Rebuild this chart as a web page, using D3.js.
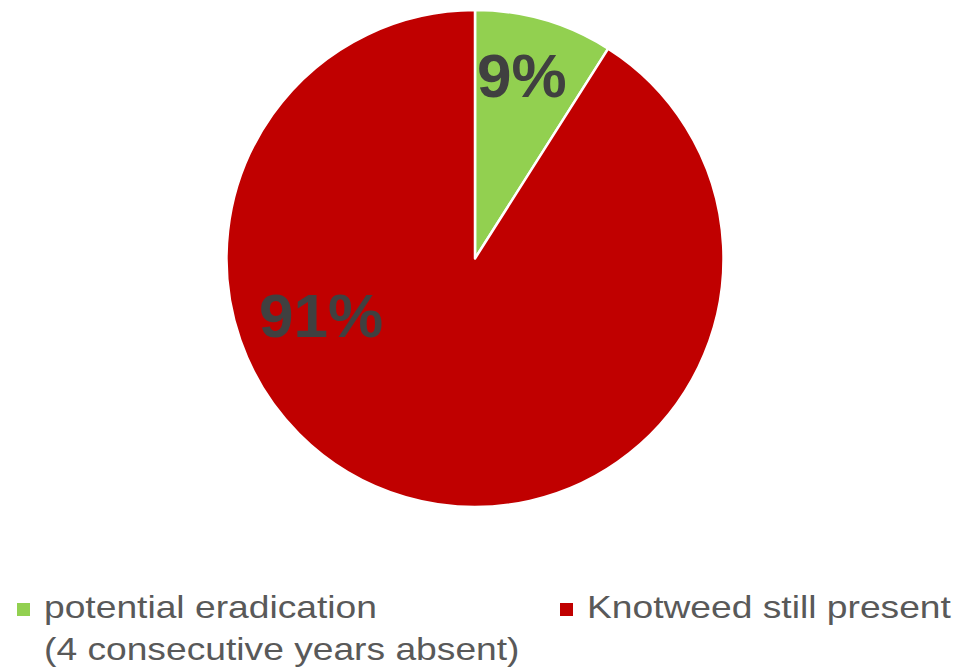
<html>
	<head>
		<title></title>
		<script type="text/javascript" src="https://d3js.org/d3.v7.min.js"></script>
		<style>
			body {
				margin: 0;
				background-color: #ffffff;
			}
		</style>
	</head>
	<body>
		<div></div>

		<script>

			//Data
			var categories = ["potential eradication (4 consecutive years absent)", "Knotweed still present"];
			var values = [9, 91];
			var valueLabels = ["9%", "91%"];
			var colors = ["#92d050", "#c00000"];
			var legendLines = [["potential eradication", "(4 consecutive years absent)"], ["Knotweed still present"]];

			//Canvas dimensions
			var canvasWidth = 955;
			var canvasHeight = 670;

			//Pie geometry
			var cx = 475;
			var cy = 258.5;
			var radius = 248.5;

			//Label placement (fraction of radius, angle override like excel best fit)
			var labelPlacement = [{r: 0.76, angle: 0.25}, {r: 0.66, angle: 4.36}];

			var canvas = d3.select("div").append("svg")
									.attr("width",canvasWidth)
									.attr("height",canvasHeight);

			var pie = d3.pie().sort(null).value(function(d){return d;});
			var arcs = pie(values);

			var arc = d3.arc().innerRadius(0).outerRadius(radius);

			var g = canvas.append("g").attr("transform","translate("+cx+","+cy+")");

			//Slices
			g.selectAll("path").data(arcs).enter().append("path")
					.attr("d",arc)
					.attr("fill",function(d,i){return colors[i];})
					.attr("stroke","#ffffff")
					.attr("stroke-width",2.5)
					.attr("stroke-linejoin","round");

			//Data labels
			g.selectAll("text.label").data(arcs).enter().append("text")
					.attr("class","label")
					.attr("transform",function(d,i){
						var p = labelPlacement[i];
						var a = p.angle !== undefined ? p.angle : (d.startAngle + d.endAngle)/2;
						var pt = d3.pointRadial(a, p.r*radius);
						return "translate("+pt[0]+","+pt[1]+")";})
					.attr("dy","0.35em")
					.attr("text-anchor","middle")
					.style("font-family","'Liberation Sans', Arial, sans-serif")
					.style("font-weight","bold")
					.style("font-size","62px")
					.style("fill","#404040")
					.text(function(d,i){return valueLabels[i];});

			//Legend
			var legendX = d3.scalePoint().domain(categories).range([17,560]);
			var legend = canvas.selectAll("g.legend").data(categories).enter().append("g")
					.attr("class","legend")
					.attr("transform",function(d){return "translate("+legendX(d)+",603)";});

			legend.append("rect")
					.attr("width",13)
					.attr("height",13)
					.attr("fill",function(d,i){return colors[i];});

			legend.each(function(d,i){
				var lines = legendLines[i];
				var sel = d3.select(this);
				lines.forEach(function(line,j){
					sel.append("text")
						.attr("transform","translate(27,"+(15+j*42)+") scale(1.2,1)")
						.style("font-family","'Liberation Sans', Arial, sans-serif")
						.style("font-size","31px")
						.style("fill","#595959")
						.text(line);
				});
			});

		</script>
	</body>
</html>
